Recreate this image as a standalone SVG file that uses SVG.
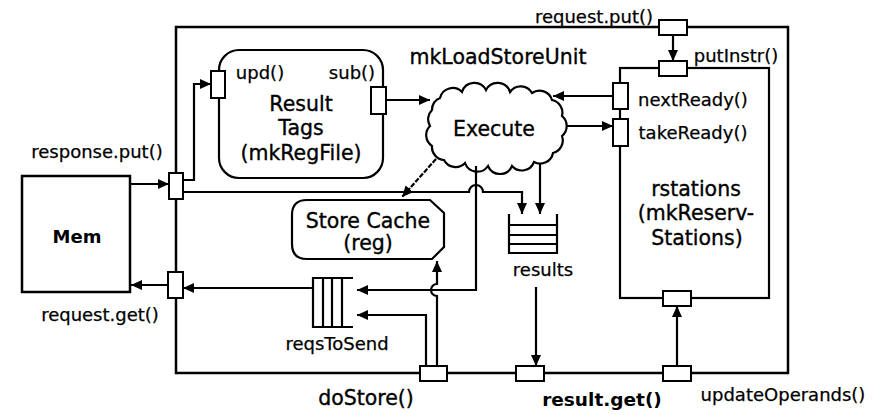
<svg xmlns="http://www.w3.org/2000/svg" width="882" height="415" viewBox="0 0 882 415">
<style>
.box{fill:#fff;stroke:#000;stroke-width:2.5}
.node{fill:#fff;stroke:#000;stroke-width:2.2}
.port{fill:#fff;stroke:#000;stroke-width:2}
.line{fill:none;stroke:#000;stroke-width:2.2}
.arr{marker-end:url(#ah)}
.lbl{font-family:"DejaVu Sans",sans-serif;font-size:18px;fill:#000;stroke:#000;stroke-width:0.25}
.ttl{font-family:"DejaVu Sans",sans-serif;font-size:20.5px;fill:#000;stroke:#000;stroke-width:0.35}
.cm{font-family:"DejaVu Sans",sans-serif;font-weight:bold;fill:#000}
.m{text-anchor:middle}
</style>
<defs>
<marker id="ah" markerUnits="userSpaceOnUse" markerWidth="12" markerHeight="11" refX="11" refY="5" orient="auto">
<path d="M0,0 L11,5 L0,10 Z" fill="#000"/>
</marker>
</defs>
<rect width="882" height="415" fill="#fff"/>

<g id="mkLoadStoreUnit">
<rect class="box" x="176" y="27" width="612" height="346" fill="none"/>
<text class="ttl m" x="498" y="64">mkLoadStoreUnit</text>
</g>

<g id="mem">
<rect class="box" x="22" y="176" width="108" height="116"/>
<text class="cm m" x="77" y="243" font-size="18">Mem</text>
</g>

<g id="resultTags">
<rect class="node" x="219" y="50" width="164" height="128" rx="20"/>
<text class="ttl m" x="301" y="111">Result</text>
<text class="ttl m" x="301" y="135">Tags</text>
<text class="ttl m" x="301" y="160">(mkRegFile)</text>
<text class="lbl m" x="260" y="79">upd()</text>
<text class="lbl m" x="352" y="79">sub()</text>
</g>

<g id="execute">
<path class="node" d="M440,98 A13,13 0 0 1 462,92 A13,13 0 0 1 486,90 A13,13 0 0 1 510,92 A13,13 0 0 1 532,93 A13,13 0 0 1 552,100 A13,13 0 0 1 562,116 A13,13 0 0 1 562,136 A13,13 0 0 1 553,153 A13,13 0 0 1 534,162 A13,13 0 0 1 512,166 A13,13 0 0 1 488,166 A13,13 0 0 1 465,163 A13,13 0 0 1 444,160 A13,13 0 0 1 432,146 A13,13 0 0 1 430,126 A13,13 0 0 1 432,110 A13,13 0 0 1 440,98 Z"/>
<text class="ttl m" x="494" y="136">Execute</text>
</g>

<g id="storeCache">
<path class="node" d="M307,200 H430 L444,213 V247 L432,259 H307 Q292,259 292,244 V215 Q292,200 307,200 Z"/>
<text class="ttl m" x="368" y="228">Store Cache</text>
<text class="ttl m" x="368" y="250">(reg)</text>
</g>

<g id="rstations">
<rect class="node" x="620" y="68" width="149" height="230"/>
<text class="ttl m" x="696" y="196">rstations</text>
<text class="ttl m" x="696" y="220">(mkReserv-</text>
<text class="ttl m" x="697" y="245">Stations)</text>
</g>

<g id="results">
<path class="line" d="M509,214 V253 H557 V214 M509,225 H557 M509,235 H557 M509,244 H557"/>
<text class="lbl m" x="543" y="276">results</text>
</g>

<g id="reqsToSend">
<path class="line" d="M353,278 H313 V327 H353 M323,278 V327 M332,278 V327 M342,278 V327"/>
<text class="lbl m" x="337" y="350">reqsToSend</text>
</g>

<g id="connectors">
<path class="line arr" d="M130,184 H169"/>
<path class="line arr" d="M183,180 H194 V84 H211"/>
<path class="line arr" d="M183,192 H469 A7,7 0 0 1 483,192 H522 V214"/>
<path class="line arr" d="M386,100 H430"/>
<path class="line arr" d="M613,96 H553"/>
<path class="line arr" d="M567,126 H613"/>
<path class="line arr" d="M540,163 V214"/>
<path class="line arr" d="M476,166 V290 H357"/>
<path class="line arr" d="M436,159 L402,197" stroke-dasharray="5,1.5" stroke-width="1.8"/>
<path class="line arr" d="M426,366 V315 H357"/>
<path class="line arr" d="M437,366 V296 A6,6 0 0 1 437,284 V261"/>
<path class="line arr" d="M313,288 H183"/>
<path class="line arr" d="M168,285 H131"/>
<path class="line arr" d="M673,35 V61"/>
<path class="line arr" d="M677,366 V306"/>
<path class="line arr" d="M536,287 V366"/>
</g>

<g id="ports">
<rect class="port" x="169" y="173" width="14" height="26"/>
<rect class="port" x="168" y="272" width="15" height="26"/>
<rect class="port" x="211" y="71" width="14" height="27"/>
<rect class="port" x="371" y="87" width="15" height="27"/>
<rect class="port" x="659" y="20" width="28" height="15"/>
<rect class="port" x="659" y="61" width="28" height="15"/>
<rect class="port" x="613" y="83" width="15" height="26"/>
<rect class="port" x="613" y="119" width="15" height="27"/>
<rect class="port" x="663" y="291" width="28" height="15"/>
<rect class="port" x="663" y="366" width="28" height="15"/>
<rect class="port" x="516" y="366" width="28" height="15"/>
<rect class="port" x="420" y="366" width="27" height="15"/>
</g>

<g id="labels">
<text class="lbl m" x="97" y="158">response.put()</text>
<text class="lbl m" x="100" y="321">request.get()</text>
<text class="lbl m" x="594" y="23">request.put()</text>
<text class="lbl m" x="736" y="62">putInstr()</text>
<text class="lbl m" x="693" y="106">nextReady()</text>
<text class="lbl m" x="693" y="139">takeReady()</text>
<text class="lbl m" x="783" y="401">updateOperands()</text>
<text class="ttl m" x="366" y="405" font-size="20">doStore()</text>
<text class="cm m" x="602" y="406" font-size="18.5">result.get()</text>
</g>
</svg>
